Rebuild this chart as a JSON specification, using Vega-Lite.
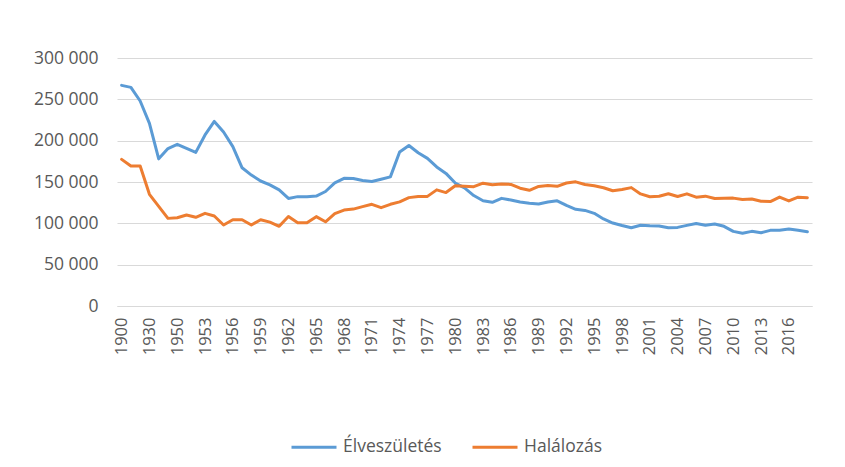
{
  "$schema": "https://vega.github.io/schema/vega-lite/v6.json",
  "autosize": "none",
  "width": 695,
  "height": 248,
  "padding": {"left": 117, "top": 58, "right": 33, "bottom": 161},
  "background": "white",
  "config": {
    "locale": {"number": {"decimal": ",", "thousands": " ", "grouping": [3], "currency": ["", ""]}},
    "view": {"stroke": null},
    "font": "Open Sans",
    "axis": {"labelColor": "#595959", "labelFont": "Open Sans", "titleColor": "#595959"},
    "legend": {"labelColor": "#595959", "labelFont": "Open Sans"}
  },
  "data": {"values": [
    {"ev":"1900","sor":"Élveszületés","n":266900},{"ev":"1910","sor":"Élveszületés","n":264500},{"ev":"1920","sor":"Élveszületés","n":248000},{"ev":"1930","sor":"Élveszületés","n":221000},{"ev":"1941","sor":"Élveszületés","n":178000},{"ev":"1949","sor":"Élveszületés","n":190400},
    {"ev":"1950","sor":"Élveszületés","n":195600},{"ev":"1951","sor":"Élveszületés","n":190600},{"ev":"1952","sor":"Élveszületés","n":185800},{"ev":"1953","sor":"Élveszületés","n":206900},{"ev":"1954","sor":"Élveszületés","n":223300},{"ev":"1955","sor":"Élveszületés","n":210400},{"ev":"1956","sor":"Élveszületés","n":192800},{"ev":"1957","sor":"Élveszületés","n":167200},{"ev":"1958","sor":"Élveszületés","n":158400},{"ev":"1959","sor":"Élveszületés","n":151200},
    {"ev":"1960","sor":"Élveszületés","n":146500},{"ev":"1961","sor":"Élveszületés","n":140400},{"ev":"1962","sor":"Élveszületés","n":130100},{"ev":"1963","sor":"Élveszületés","n":132300},{"ev":"1964","sor":"Élveszületés","n":132100},{"ev":"1965","sor":"Élveszületés","n":133000},{"ev":"1966","sor":"Élveszületés","n":138500},{"ev":"1967","sor":"Élveszületés","n":148900},{"ev":"1968","sor":"Élveszületés","n":154400},{"ev":"1969","sor":"Élveszületés","n":154300},
    {"ev":"1970","sor":"Élveszületés","n":151800},{"ev":"1971","sor":"Élveszületés","n":150600},{"ev":"1972","sor":"Élveszületés","n":153300},{"ev":"1973","sor":"Élveszületés","n":156200},{"ev":"1974","sor":"Élveszületés","n":186300},{"ev":"1975","sor":"Élveszületés","n":194200},{"ev":"1976","sor":"Élveszületés","n":185400},{"ev":"1977","sor":"Élveszületés","n":178600},{"ev":"1978","sor":"Élveszületés","n":168200},{"ev":"1979","sor":"Élveszületés","n":160400},
    {"ev":"1980","sor":"Élveszületés","n":148700},{"ev":"1981","sor":"Élveszületés","n":142900},{"ev":"1982","sor":"Élveszületés","n":133600},{"ev":"1983","sor":"Élveszületés","n":127300},{"ev":"1984","sor":"Élveszületés","n":125400},{"ev":"1985","sor":"Élveszületés","n":130200},{"ev":"1986","sor":"Élveszületés","n":128200},{"ev":"1987","sor":"Élveszületés","n":125800},{"ev":"1988","sor":"Élveszületés","n":124300},{"ev":"1989","sor":"Élveszületés","n":123300},
    {"ev":"1990","sor":"Élveszületés","n":125700},{"ev":"1991","sor":"Élveszületés","n":127200},{"ev":"1992","sor":"Élveszületés","n":121700},{"ev":"1993","sor":"Élveszületés","n":117000},{"ev":"1994","sor":"Élveszületés","n":115600},{"ev":"1995","sor":"Élveszületés","n":112100},{"ev":"1996","sor":"Élveszületés","n":105300},{"ev":"1997","sor":"Élveszületés","n":100400},{"ev":"1998","sor":"Élveszületés","n":97300},{"ev":"1999","sor":"Élveszületés","n":94600},
    {"ev":"2000","sor":"Élveszületés","n":97600},{"ev":"2001","sor":"Élveszületés","n":97000},{"ev":"2002","sor":"Élveszületés","n":96800},{"ev":"2003","sor":"Élveszületés","n":94600},{"ev":"2004","sor":"Élveszületés","n":95100},{"ev":"2005","sor":"Élveszületés","n":97500},{"ev":"2006","sor":"Élveszületés","n":99900},{"ev":"2007","sor":"Élveszületés","n":97600},{"ev":"2008","sor":"Élveszületés","n":99100},{"ev":"2009","sor":"Élveszületés","n":96400},
    {"ev":"2010","sor":"Élveszületés","n":90300},{"ev":"2011","sor":"Élveszületés","n":88000},{"ev":"2012","sor":"Élveszületés","n":90300},{"ev":"2013","sor":"Élveszületés","n":88700},{"ev":"2014","sor":"Élveszületés","n":91500},{"ev":"2015","sor":"Élveszületés","n":91700},{"ev":"2016","sor":"Élveszületés","n":93100},{"ev":"2017","sor":"Élveszületés","n":91600},{"ev":"2018","sor":"Élveszületés","n":89800},
    {"ev":"1900","sor":"Halálozás","n":177400},{"ev":"1910","sor":"Halálozás","n":169300},{"ev":"1920","sor":"Halálozás","n":169300},{"ev":"1930","sor":"Halálozás","n":135100},{"ev":"1941","sor":"Halálozás","n":120600},{"ev":"1949","sor":"Halálozás","n":106000},
    {"ev":"1950","sor":"Halálozás","n":106800},{"ev":"1951","sor":"Halálozás","n":110100},{"ev":"1952","sor":"Halálozás","n":107300},{"ev":"1953","sor":"Halálozás","n":112100},{"ev":"1954","sor":"Halálozás","n":108900},{"ev":"1955","sor":"Halálozás","n":98000},{"ev":"1956","sor":"Halálozás","n":104400},{"ev":"1957","sor":"Halálozás","n":104400},{"ev":"1958","sor":"Halálozás","n":98000},{"ev":"1959","sor":"Halálozás","n":104400},
    {"ev":"1960","sor":"Halálozás","n":101500},{"ev":"1961","sor":"Halálozás","n":96400},{"ev":"1962","sor":"Halálozás","n":108300},{"ev":"1963","sor":"Halálozás","n":100800},{"ev":"1964","sor":"Halálozás","n":100800},{"ev":"1965","sor":"Halálozás","n":108100},{"ev":"1966","sor":"Halálozás","n":101900},{"ev":"1967","sor":"Halálozás","n":111700},{"ev":"1968","sor":"Halálozás","n":116100},{"ev":"1969","sor":"Halálozás","n":117200},
    {"ev":"1970","sor":"Halálozás","n":120200},{"ev":"1971","sor":"Halálozás","n":123000},{"ev":"1972","sor":"Halálozás","n":119000},{"ev":"1973","sor":"Halálozás","n":123000},{"ev":"1974","sor":"Halálozás","n":126000},{"ev":"1975","sor":"Halálozás","n":131100},{"ev":"1976","sor":"Halálozás","n":132400},{"ev":"1977","sor":"Halálozás","n":132600},{"ev":"1978","sor":"Halálozás","n":140500},{"ev":"1979","sor":"Halálozás","n":137200},
    {"ev":"1980","sor":"Halálozás","n":145400},{"ev":"1981","sor":"Halálozás","n":144800},{"ev":"1982","sor":"Halálozás","n":144300},{"ev":"1983","sor":"Halálozás","n":148600},{"ev":"1984","sor":"Halálozás","n":146700},{"ev":"1985","sor":"Halálozás","n":147600},{"ev":"1986","sor":"Halálozás","n":147100},{"ev":"1987","sor":"Halálozás","n":142500},{"ev":"1988","sor":"Halálozás","n":140000},{"ev":"1989","sor":"Halálozás","n":144700},
    {"ev":"1990","sor":"Halálozás","n":145700},{"ev":"1991","sor":"Halálozás","n":144800},{"ev":"1992","sor":"Halálozás","n":148800},{"ev":"1993","sor":"Halálozás","n":150200},{"ev":"1994","sor":"Halálozás","n":146900},{"ev":"1995","sor":"Halálozás","n":145400},{"ev":"1996","sor":"Halálozás","n":143100},{"ev":"1997","sor":"Halálozás","n":139400},{"ev":"1998","sor":"Halálozás","n":140900},{"ev":"1999","sor":"Halálozás","n":143200},
    {"ev":"2000","sor":"Halálozás","n":135600},{"ev":"2001","sor":"Halálozás","n":132200},{"ev":"2002","sor":"Halálozás","n":132800},{"ev":"2003","sor":"Halálozás","n":135800},{"ev":"2004","sor":"Halálozás","n":132500},{"ev":"2005","sor":"Halálozás","n":135700},{"ev":"2006","sor":"Halálozás","n":131600},{"ev":"2007","sor":"Halálozás","n":132900},{"ev":"2008","sor":"Halálozás","n":130000},{"ev":"2009","sor":"Halálozás","n":130400},
    {"ev":"2010","sor":"Halálozás","n":130500},{"ev":"2011","sor":"Halálozás","n":128800},{"ev":"2012","sor":"Halálozás","n":129400},{"ev":"2013","sor":"Halálozás","n":126800},{"ev":"2014","sor":"Halálozás","n":126300},{"ev":"2015","sor":"Halálozás","n":131700},{"ev":"2016","sor":"Halálozás","n":127100},{"ev":"2017","sor":"Halálozás","n":131700},{"ev":"2018","sor":"Halálozás","n":131000}
  ]},
  "mark": {"type": "line", "strokeWidth": 3, "strokeCap": "round", "strokeJoin": "round"},
  "encoding": {
    "x": {
      "field": "ev", "type": "ordinal", "sort": null,
      "scale": {"type": "point", "padding": 0.5},
      "axis": {
        "title": null,
        "values": ["1900","1930","1950","1953","1956","1959","1962","1965","1968","1971","1974","1977","1980","1983","1986","1989","1992","1995","1998","2001","2004","2007","2010","2013","2016"],
        "labelAngle": -90, "labelAlign": "right", "labelBaseline": "middle",
        "labelFontSize": 16.5, "labelPadding": 11,
        "ticks": false, "tickSize": 0, "grid": false,
        "domain": true, "domainColor": "#d9d9d9", "domainWidth": 1,
        "labelOverlap": false
      }
    },
    "y": {
      "field": "n", "type": "quantitative",
      "scale": {"domain": [0, 300000], "nice": false},
      "axis": {
        "title": null,
        "values": [0, 50000, 100000, 150000, 200000, 250000, 300000],
        "format": ",d",
        "labelFontSize": 17.5, "labelPadding": 19,
        "ticks": false, "tickSize": 0, "domain": false,
        "grid": true, "gridColor": "#d9d9d9", "gridWidth": 1
      }
    },
    "color": {
      "field": "sor", "type": "nominal",
      "scale": {"domain": ["Élveszületés", "Halálozás"], "range": ["#5B9BD5", "#ED7D31"]},
      "legend": {
        "title": null, "orient": "none", "direction": "horizontal",
        "legendX": 173, "legendY": 365,
        "symbolType": "stroke", "symbolSize": 2025, "symbolStrokeWidth": 3,
        "labelFontSize": 17.5, "labelOffset": 5, "columnPadding": 24
      }
    }
  }
}
